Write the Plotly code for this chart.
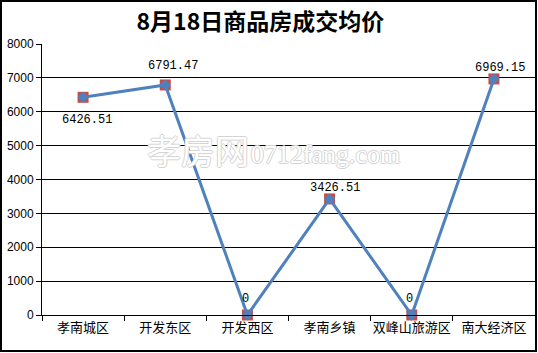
import plotly.graph_objects as go

categories = ["孝南城区", "开发东区", "开发西区", "孝南乡镇", "双峰山旅游区", "南大经济区"]
prices = [6426.51, 6791.47, 0, 3426.51, 0, 6969.15]
label_texts = ["6426.51", "6791.47", "0", "3426.51", "0", "6969.15"]
y_ticks = [0, 1000, 2000, 3000, 4000, 5000, 6000, 7000, 8000]
title_text = "8月18日商品房成交均价"

# label pixel offsets (styling): (dx, dy), dy positive = up
label_offsets = [(4, -23), (8, 19), (-2, 16), (5, 11), (-2, 16), (6, 11)]

W, H = 538, 353
ML, MR, MT, MB = 42, 3, 44, 38
PW, PH = W - ML - MR, H - MT - MB

def px_x(p):
    return (p - ML) / PW

def px_y(p):
    return (H - MB - p) / PH

fig = go.Figure()

# watermark (drawn under the data)
outline = "1px 0 #d4d4d4, -1px 0 #d4d4d4, 0 1px #d4d4d4, 0 -1px #d4d4d4"
fig.add_trace(go.Scatter(
    x=[1.4], y=[4700], xaxis="x2", mode="text", text=["孝房网"],
    textfont=dict(family="Noto Sans CJK SC", size=34, color="white", shadow=outline),
    hoverinfo="skip", showlegend=False,
))
fig.add_trace(go.Scatter(
    x=[2.95], y=[4680], xaxis="x2", mode="text", text=["0712fang.com"],
    textfont=dict(family="Liberation Serif", size=26, color="white", shadow=outline),
    hoverinfo="skip", showlegend=False,
))

# red squares
fig.add_trace(go.Scatter(
    x=categories, y=prices, mode="markers", cliponaxis=False,
    marker=dict(symbol="square", size=11, color="#C0504D", line=dict(width=0)),
    hoverinfo="skip", showlegend=False,
))
# blue line with diamonds
fig.add_trace(go.Scatter(
    x=categories, y=prices, mode="lines+markers", cliponaxis=False,
    line=dict(color="#4F81BD", width=3),
    marker=dict(symbol="diamond", size=8.5, color="#4F81BD", line=dict(width=0)),
    showlegend=False,
))

annotations = []
for c, v, t, (dx, dy) in zip(categories, prices, label_texts, label_offsets):
    annotations.append(dict(
        x=c, y=v, xref="x", yref="y", text=t, showarrow=False,
        xshift=dx, yshift=dy, xanchor="center", yanchor="middle",
        font=dict(family="Liberation Mono", size=12, color="black"),
    ))

fig.update_layout(
    width=W, height=H,
    margin=dict(l=ML, r=MR, t=MT, b=MB, pad=0, autoexpand=False),
    paper_bgcolor="white", plot_bgcolor="white",
    title=dict(text=f"<b>{title_text}</b>", x=0.484, xanchor="center",
               y=1 - 22 / H, yanchor="middle",
               font=dict(family="Noto Sans CJK SC", size=23, color="black")),
    xaxis=dict(type="category", tickson="boundaries", ticks="outside", ticklen=5,
               tickcolor="black", showline=True, linecolor="black", linewidth=1,
               showgrid=False, zeroline=False, range=[-0.5, 5.5],
               tickangle=0, automargin=False,
               tickfont=dict(family="Noto Sans CJK SC", size=13, color="black")),
    xaxis2=dict(overlaying="x", range=[-0.5, 5.5], visible=False),
    yaxis=dict(range=[0, 8000], tickvals=y_ticks, ticks="outside", ticklen=5,
               tickcolor="black", showline=True, linecolor="black", linewidth=1,
               showgrid=True, gridcolor="black", gridwidth=1, zeroline=False,
               automargin=False,
               tickfont=dict(family="Liberation Sans", size=12, color="black")),
    annotations=annotations,
    shapes=[dict(type="rect", xref="paper", yref="paper",
                 x0=px_x(1), x1=px_x(536), y0=px_y(351), y1=px_y(1),
                 line=dict(color="black", width=2), fillcolor="rgba(0,0,0,0)", layer="above")],
)

fig.write_html("out.html")
